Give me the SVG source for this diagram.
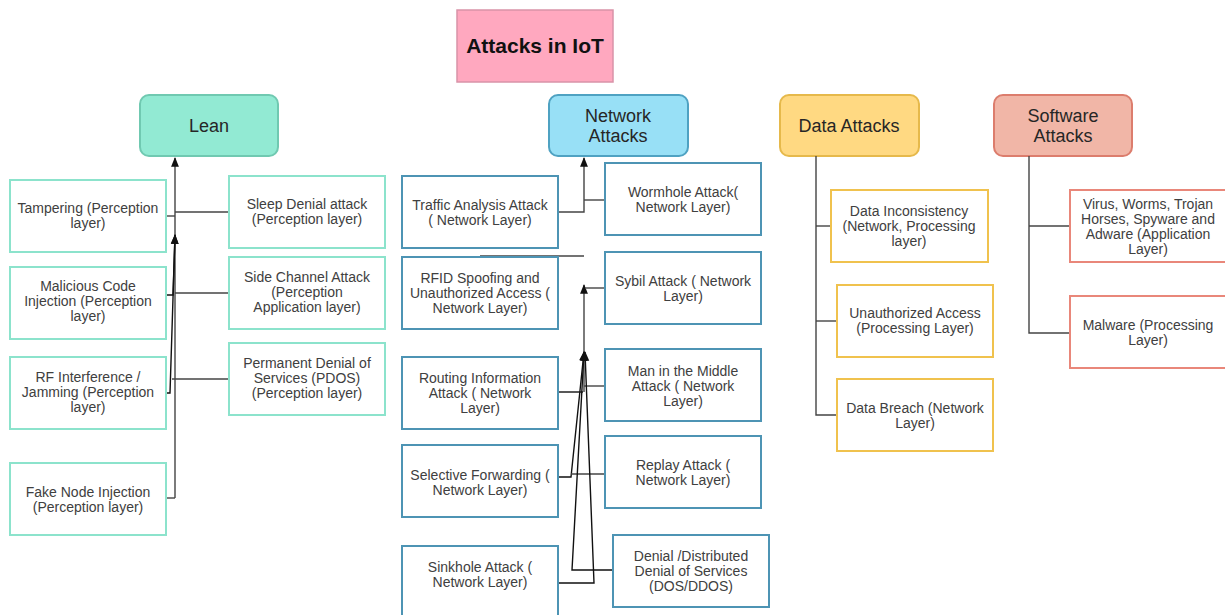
<svg xmlns="http://www.w3.org/2000/svg" width="1225" height="615" viewBox="0 0 1225 615">
<style>
text{font-family:"Liberation Sans",Arial,sans-serif;text-anchor:middle}
.b{font-size:14px;fill:#404040}
.h{font-size:18px;fill:#262626}
.t{font-size:21px;font-weight:bold;fill:#111}
.lean{fill:#fff;stroke:#8ce3cc;stroke-width:2}
.net{fill:#fff;stroke:#4d94b4;stroke-width:2}
.dat{fill:#fff;stroke:#f0c24e;stroke-width:2}
.sw{fill:#fff;stroke:#e9877a;stroke-width:2}
.c{fill:none;stroke:#444;stroke-width:1.4}
.k{fill:none;stroke:#111;stroke-width:1.4}
</style>
<defs>
<marker id="ar" viewBox="0 0 10 10" refX="9" refY="5" markerWidth="7" markerHeight="7" orient="auto">
<path d="M0,1 L10,5 L0,9 z" fill="#111"/>
</marker>
</defs>
<rect width="1225" height="615" fill="#fff"/>

<g id="title">
<rect x="457" y="10" width="156" height="72" fill="#ffa8bf" stroke="#d993a8" stroke-width="1.5"/>
<text class="t" x="535" y="53">Attacks in IoT</text>
</g>

<g id="lean">
<rect x="140" y="95" width="138" height="61" rx="9" fill="#92ead3" stroke="#70c9b1" stroke-width="2"/>
<text class="h" x="209" y="132">Lean</text>
</g>
<g id="network">
<rect x="549" y="95" width="139" height="61" rx="9" fill="#98e0f6" stroke="#4fa2c2" stroke-width="2"/>
<text class="h" x="618" y="122">Network</text>
<text class="h" x="618" y="142">Attacks</text>
</g>
<g id="data">
<rect x="780" y="95" width="139" height="61" rx="9" fill="#ffd982" stroke="#e6b94b" stroke-width="2"/>
<text class="h" x="849" y="132">Data Attacks</text>
</g>
<g id="software">
<rect x="994" y="95" width="138" height="61" rx="9" fill="#f1b6a7" stroke="#dc7d6d" stroke-width="2"/>
<text class="h" x="1063" y="122">Software</text>
<text class="h" x="1063" y="142">Attacks</text>
</g>

<g id="connectors">
<path class="c" d="M175,498 V158" marker-end="url(#ar)"/>
<path class="c" d="M166,498 H175"/>
<path class="c" d="M166,216 H175"/>
<path class="c" d="M229,212 H175"/>
<path class="k" d="M166,295 H173 L175,235" marker-end="url(#ar)"/>
<path class="k" d="M166,393 H170 L175,235" marker-end="url(#ar)"/>
<path class="c" d="M229,293 H175"/>
<path class="c" d="M229,379 H172"/>

<path class="c" d="M558,212 H584 V158" marker-end="url(#ar)"/>
<path class="c" d="M605,200 H584"/>
<path class="c" d="M480,256 H584"/>
<path class="c" d="M584,392 V285" marker-end="url(#ar)"/>
<path class="k" d="M558,392 H583"/>
<path class="c" d="M605,288 H585"/>
<path class="c" d="M605,386 H584"/>
<path class="k" d="M558,477 H571 L584,352" marker-end="url(#ar)"/>
<path class="c" d="M605,474 H571"/>
<path class="k" d="M613,570 H572 L584,352" marker-end="url(#ar)"/>
<path class="k" d="M558,583 H594 L585,352" marker-end="url(#ar)"/>

<path class="c" d="M816,156 V415 H837"/>
<path class="c" d="M816,226 H831"/>
<path class="c" d="M816,321 H837"/>
<path class="c" d="M1029,156 V333 H1070"/>
<path class="c" d="M1029,226 H1070"/>
</g>

<g id="tampering"><rect class="lean" x="10" y="180" width="156" height="72"/>
<text class="b" x="88" y="213">Tampering (Perception</text><text class="b" x="88" y="228">layer)</text></g>
<g id="sleep"><rect class="lean" x="229" y="176" width="156" height="72"/>
<text class="b" x="307" y="209">Sleep Denial attack</text><text class="b" x="307" y="224">(Perception layer)</text></g>
<g id="malicious"><rect class="lean" x="10" y="267" width="156" height="72"/>
<text class="b" x="88" y="291">Malicious Code</text><text class="b" x="88" y="306">Injection (Perception</text><text class="b" x="88" y="321">layer)</text></g>
<g id="sidechannel"><rect class="lean" x="229" y="257" width="156" height="72"/>
<text class="b" x="307" y="282">Side Channel Attack</text><text class="b" x="307" y="297">(Perception</text><text class="b" x="307" y="312">Application layer)</text></g>
<g id="rf"><rect class="lean" x="10" y="357" width="156" height="72"/>
<text class="b" x="88" y="382">RF Interference /</text><text class="b" x="88" y="397">Jamming (Perception</text><text class="b" x="88" y="412">layer)</text></g>
<g id="pdos"><rect class="lean" x="229" y="343" width="156" height="72"/>
<text class="b" x="307" y="368">Permanent Denial of</text><text class="b" x="307" y="383">Services (PDOS)</text><text class="b" x="307" y="398">(Perception layer)</text></g>
<g id="fakenode"><rect class="lean" x="10" y="463" width="156" height="72"/>
<text class="b" x="88" y="497">Fake Node Injection</text><text class="b" x="88" y="512">(Perception layer)</text></g>

<g id="traffic"><rect class="net" x="402" y="176" width="156" height="72"/>
<text class="b" x="480" y="210">Traffic Analysis Attack</text><text class="b" x="480" y="225">( Network Layer)</text></g>
<g id="wormhole"><rect class="net" x="605" y="163" width="156" height="72"/>
<text class="b" x="683" y="197">Wormhole Attack(</text><text class="b" x="683" y="212">Network Layer)</text></g>
<g id="rfid"><rect class="net" x="402" y="257" width="156" height="72"/>
<text class="b" x="480" y="283">RFID Spoofing and</text><text class="b" x="480" y="298">Unauthorized Access (</text><text class="b" x="480" y="313">Network Layer)</text></g>
<g id="sybil"><rect class="net" x="605" y="252" width="156" height="72"/>
<text class="b" x="683" y="286">Sybil Attack ( Network</text><text class="b" x="683" y="301">Layer)</text></g>
<g id="routing"><rect class="net" x="402" y="357" width="156" height="72"/>
<text class="b" x="480" y="383">Routing Information</text><text class="b" x="480" y="398">Attack ( Network</text><text class="b" x="480" y="413">Layer)</text></g>
<g id="mitm"><rect class="net" x="605" y="349" width="156" height="72"/>
<text class="b" x="683" y="376">Man in the Middle</text><text class="b" x="683" y="391">Attack ( Network</text><text class="b" x="683" y="406">Layer)</text></g>
<g id="selective"><rect class="net" x="402" y="445" width="156" height="72"/>
<text class="b" x="480" y="480">Selective Forwarding (</text><text class="b" x="480" y="495">Network Layer)</text></g>
<g id="replay"><rect class="net" x="605" y="436" width="156" height="72"/>
<text class="b" x="683" y="470">Replay Attack (</text><text class="b" x="683" y="485">Network Layer)</text></g>
<g id="sinkhole"><rect class="net" x="402" y="546" width="156" height="74"/>
<text class="b" x="480" y="572">Sinkhole Attack (</text><text class="b" x="480" y="587">Network Layer)</text></g>
<g id="dos"><rect class="net" x="613" y="535" width="156" height="72"/>
<text class="b" x="691" y="561">Denial /Distributed</text><text class="b" x="691" y="576">Denial of Services</text><text class="b" x="691" y="591">(DOS/DDOS)</text></g>

<g id="inconsistency"><rect class="dat" x="831" y="190" width="157" height="72"/>
<text class="b" x="909" y="216">Data Inconsistency</text><text class="b" x="909" y="231">(Network, Processing</text><text class="b" x="909" y="246">layer)</text></g>
<g id="unauthorized"><rect class="dat" x="837" y="285" width="156" height="72"/>
<text class="b" x="915" y="318">Unauthorized Access</text><text class="b" x="915" y="333">(Processing Layer)</text></g>
<g id="breach"><rect class="dat" x="837" y="379" width="156" height="72"/>
<text class="b" x="915" y="413">Data Breach (Network</text><text class="b" x="915" y="428">Layer)</text></g>

<g id="virus"><rect class="sw" x="1070" y="190" width="160" height="72"/>
<text class="b" x="1148" y="209">Virus, Worms, Trojan</text><text class="b" x="1148" y="224">Horses, Spyware and</text><text class="b" x="1148" y="239">Adware (Application</text><text class="b" x="1148" y="254">Layer)</text></g>
<g id="malware"><rect class="sw" x="1070" y="296" width="160" height="72"/>
<text class="b" x="1148" y="330">Malware (Processing</text><text class="b" x="1148" y="345">Layer)</text></g>
</svg>
